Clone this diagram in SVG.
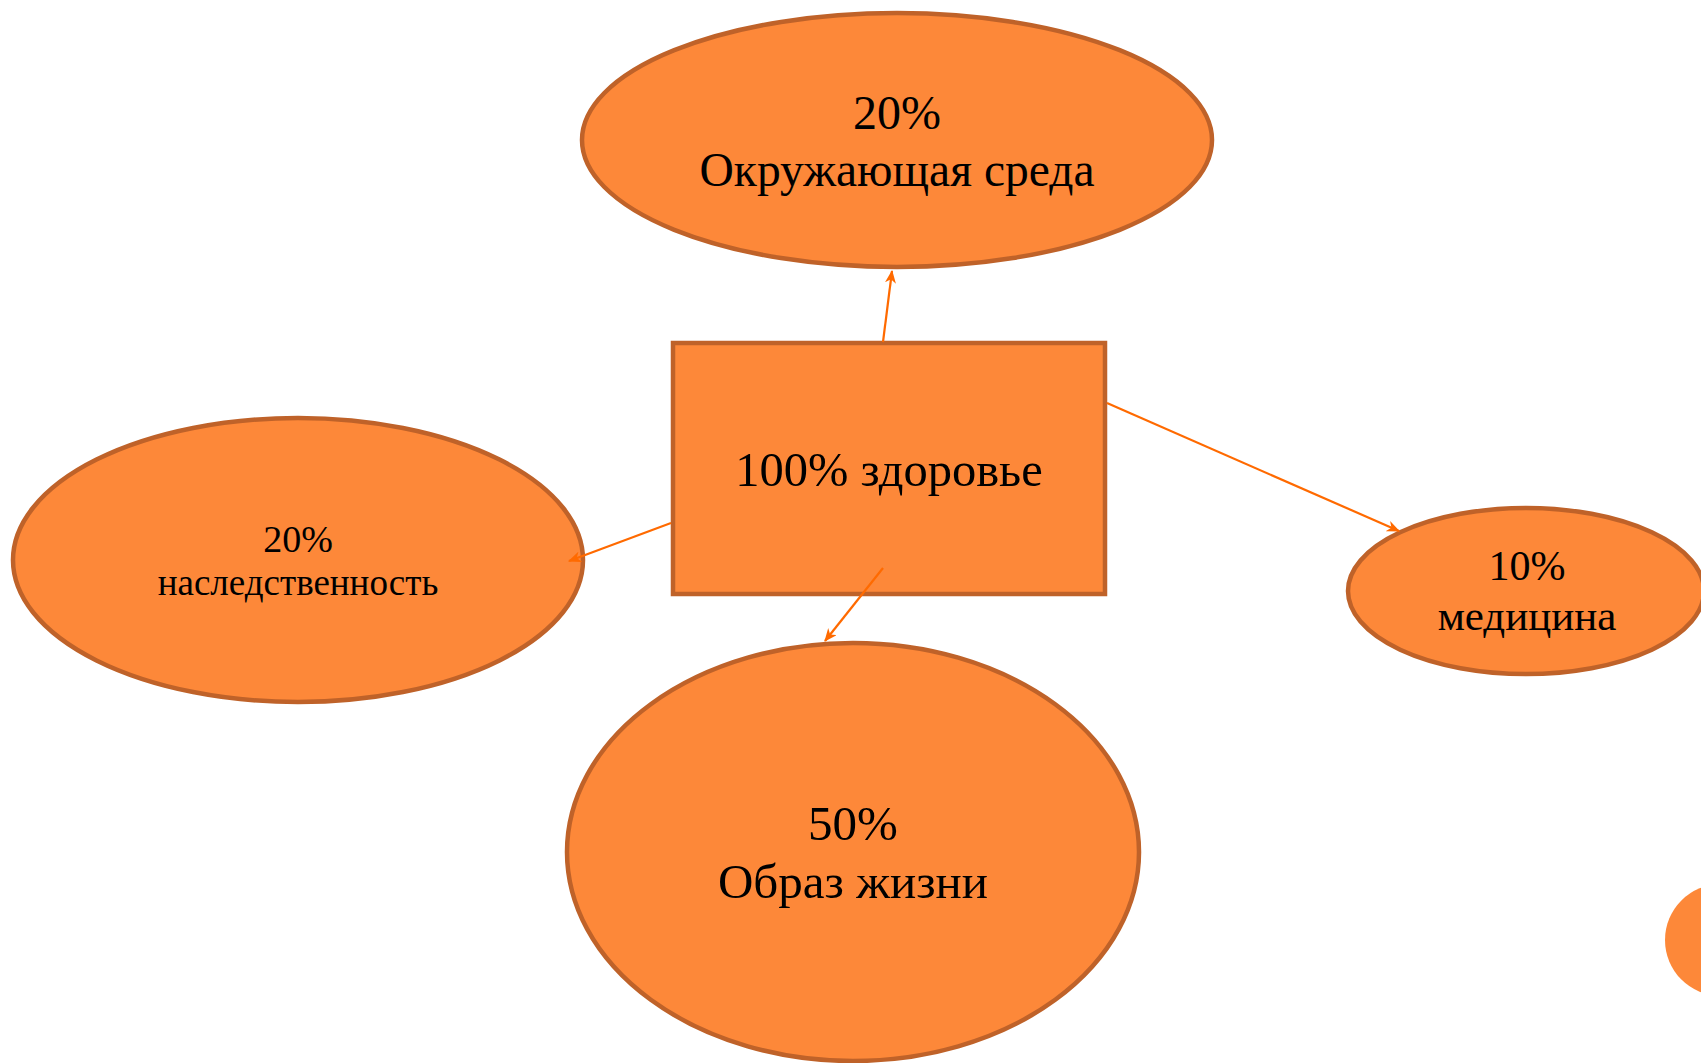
<svg xmlns="http://www.w3.org/2000/svg" width="1701" height="1063" viewBox="0 0 1701 1063">
<style>
.node{fill:#FD8839;stroke:#BF6229;stroke-width:4.5}
.t{font-family:"Liberation Serif","Times New Roman",serif;fill:#000;text-anchor:middle}
.c{stroke:#FF6A00;stroke-width:2.2;fill:none;marker-end:url(#ah)}
</style>
<defs>
<marker id="ah" viewBox="0 0 12 10" refX="11" refY="5" markerWidth="6" markerHeight="5" orient="auto" markerUnits="strokeWidth">
<path d="M0,0 L12,5 L0,10 L3.5,5 z" fill="#FF6A00"/>
</marker>
</defs>
<rect width="1701" height="1063" fill="#FFFFFF"/>
<g id="deco"><circle cx="1721" cy="940" r="56" fill="#FD8839"/></g>
<g id="n-env">
<ellipse class="node" cx="897" cy="140" rx="315" ry="127"/>
<text class="t" x="897" y="129" font-size="48">20%</text>
<text class="t" x="897" y="186" font-size="47.5">Окружающая среда</text>
</g>
<g id="n-heredity">
<ellipse class="node" cx="298" cy="560" rx="285" ry="142"/>
<text class="t" x="298" y="552" font-size="38">20%</text>
<text class="t" x="298" y="595" font-size="37">наследственность</text>
</g>
<g id="n-med">
<ellipse class="node" cx="1526" cy="591" rx="178" ry="83"/>
<text class="t" x="1527" y="580" font-size="42">10%</text>
<text class="t" x="1527" y="630" font-size="43">медицина</text>
</g>
<g id="n-life">
<ellipse class="node" cx="853" cy="852" rx="286" ry="209"/>
<text class="t" x="853" y="840" font-size="49">50%</text>
<text class="t" x="853" y="898" font-size="49">Образ жизни</text>
</g>
<g id="n-health">
<rect class="node" x="673" y="343" width="432" height="251"/>
<text class="t" x="889" y="486" font-size="48.5">100% здоровье</text>
</g>
<g id="connectors">
<line class="c" x1="883" y1="342" x2="892" y2="271"/>
<line class="c" x1="1107" y1="403" x2="1399" y2="531"/>
<line class="c" x1="671" y1="523" x2="569" y2="561"/>
<line class="c" x1="883" y1="568" x2="825" y2="641"/>
</g>
</svg>
